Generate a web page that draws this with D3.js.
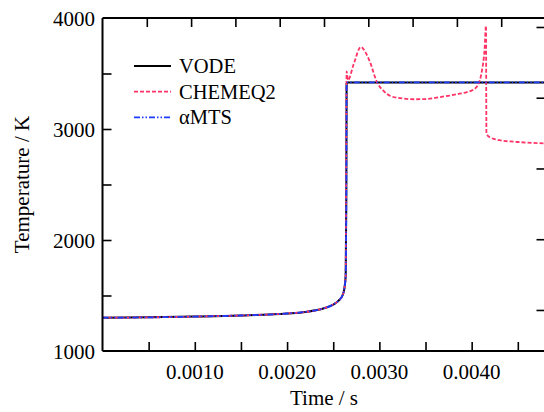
<!DOCTYPE html>
<html>
<head>
<meta charset="utf-8">
<script src="https://cdn.jsdelivr.net/npm/d3@7"></script>
<style>
  body { margin: 0; background: #fff; }
  svg { display: block; }
  text { font-family: "Liberation Serif", "DejaVu Serif", serif; fill: #000; }
</style>
</head>
<body>
<script>
// ---- data (time in s, temperature in K) ----
var vodeTime = [0, 0.0005, 0.001, 0.0015, 0.002, 0.0022, 0.0024, 0.0025, 0.00256, 0.0026, 0.00262, 0.002635, 0.002642, 0.002645, 0.00266, 0.0048];
var vodeTemp = [1300, 1303, 1310, 1320, 1338, 1352, 1385, 1418, 1455, 1500, 1560, 1680, 2400, 3410, 3420, 3420];

var mtsTime = [0, 0.0005, 0.001, 0.0015, 0.002, 0.0022, 0.0024, 0.0025, 0.00256, 0.0026, 0.00262, 0.002635, 0.002642, 0.002645, 0.00266, 0.0048];
var mtsTemp = [1300, 1303, 1310, 1320, 1338, 1352, 1385, 1418, 1455, 1500, 1560, 1680, 2400, 3410, 3420, 3420];

var chemTime = [0, 0.0005, 0.001, 0.0015, 0.002, 0.0022, 0.0024, 0.0025, 0.00256, 0.0026, 0.00262, 0.002635,
  0.00264, 0.002645, 0.00266, 0.00272, 0.0028, 0.00285, 0.0029, 0.00297, 0.00305, 0.00312, 0.00325, 0.00337,
  0.0035, 0.00366, 0.00387, 0.00395, 0.00402, 0.00407, 0.00411, 0.00414, 0.004155, 0.00416, 0.004175, 0.0042,
  0.0043, 0.0045, 0.0048];
var chemTemp = [1300, 1303, 1310, 1320, 1338, 1352, 1385, 1418, 1455, 1500, 1560, 1680,
  2600, 3520, 3440, 3580, 3740, 3690, 3600, 3430, 3340, 3297, 3275, 3268,
  3270, 3288, 3318, 3333, 3355, 3400, 3520, 3720, 3930, 2964, 2940, 2925,
  2900, 2883, 2870];

var xTickLabels = ["0.0010", "0.0020", "0.0030", "0.0040"];
var xTickValues = [0.0005, 0.001, 0.0015, 0.002, 0.0025, 0.003, 0.0035, 0.004, 0.0045];
var yTickValues = [1500, 2000, 2500, 3000, 3500];
var yTickLabels = ["1000", "2000", "3000", "4000"];
var rightTickValues = [0, 1, 2, 3, 4];

var seriesNames = ["VODE", "CHEMEQ2", "\u03b1MTS"];
var seriesColors = ["#000000", "#ff3366", "#1a3cff"];
var seriesDash = [null, "4,2", "6,2,1.5,2,1.5,2"];

// ---- layout ----
var W = 544, H = 412;
var margin = { left: 102.5, right: 545.5, top: 18, bottom: 351 };

var x = d3.scaleLinear().domain([0, 0.0048]).range([margin.left, margin.right]);
var xTop = d3.scaleLinear().domain([0, 0.005]).range([margin.left, margin.right]);
var y = d3.scaleLinear().domain([1000, 4000]).range([margin.bottom, margin.top]);
var yRight = d3.scaleLinear().domain([-0.58, 4.127]).range([margin.bottom, margin.top]);

var svg = d3.select("body").append("svg")
  .attr("width", W)
  .attr("height", H);

// clip for the curves
svg.append("clipPath").attr("id", "plotclip")
  .append("rect")
  .attr("x", margin.left).attr("y", margin.top)
  .attr("width", margin.right - margin.left).attr("height", margin.bottom - margin.top);

// curves
var line = d3.line()
  .x(function (d) { return x(d[0]); })
  .y(function (d) { return y(d[1]); })
  .curve(d3.curveMonotoneX);

var series = [
  d3.zip(vodeTime, vodeTemp),
  d3.zip(chemTime, chemTemp),
  d3.zip(mtsTime, mtsTemp)
];

var plot = svg.append("g").attr("clip-path", "url(#plotclip)");
series.forEach(function (data, i) {
  plot.append("path")
    .datum(data)
    .attr("d", line)
    .attr("fill", "none")
    .attr("stroke", seriesColors[i])
    .attr("stroke-width", i == 0 ? 2 : 1.8)
    .attr("stroke-dasharray", seriesDash[i]);
});

// frame
var tickLen = 9;
svg.append("g")
  .attr("transform", "translate(0," + margin.bottom + ")")
  .call(d3.axisBottom(x).tickValues(xTickValues).tickSize(-tickLen).tickFormat(""))
  .call(function (g) {
    g.select(".domain").attr("stroke-width", 2).attr("d", "M" + margin.left + ",0H" + margin.right);
    g.selectAll(".tick line").attr("stroke-width", 1.6);
  });

svg.append("g")
  .attr("transform", "translate(0," + margin.top + ")")
  .call(d3.axisTop(xTop).tickValues(xTickValues).tickSize(-tickLen).tickFormat(""))
  .call(function (g) {
    g.select(".domain").attr("stroke-width", 2).attr("d", "M" + margin.left + ",0H" + margin.right);
    g.selectAll(".tick line").attr("stroke-width", 1.6);
  });

svg.append("g")
  .attr("transform", "translate(" + margin.left + ",0)")
  .call(d3.axisLeft(y).tickValues(yTickValues).tickSize(-tickLen).tickFormat(""))
  .call(function (g) {
    g.select(".domain").attr("stroke-width", 2).attr("d", "M0," + margin.top + "V" + margin.bottom);
    g.selectAll(".tick line").attr("stroke-width", 1.6);
  });

svg.append("g")
  .attr("transform", "translate(" + margin.right + ",0)")
  .call(d3.axisRight(yRight).tickValues(rightTickValues).tickSize(-tickLen).tickFormat(""))
  .call(function (g) {
    g.select(".domain").attr("stroke-width", 2).attr("d", "M0," + margin.top + "V" + margin.bottom);
    g.selectAll(".tick line").attr("stroke-width", 1.6);
  });

// tick labels
svg.selectAll(".xlab")
  .data(xTickLabels)
  .enter().append("text")
  .attr("class", "xlab")
  .attr("x", function (d) { return x(+d); })
  .attr("y", 379)
  .attr("text-anchor", "middle")
  .attr("font-size", "21px")
  .text(function (d) { return d; });

svg.selectAll(".ylab")
  .data(yTickLabels)
  .enter().append("text")
  .attr("class", "ylab")
  .attr("x", 95)
  .attr("y", function (d) { return y(+d) + 8; })
  .attr("text-anchor", "end")
  .attr("font-size", "21px")
  .text(function (d) { return d; });

// axis titles
svg.append("text")
  .attr("x", (margin.left + margin.right) / 2)
  .attr("y", 405)
  .attr("text-anchor", "middle")
  .attr("font-size", "21px")
  .text("Time / s");

svg.append("text")
  .attr("transform", "translate(29," + (margin.top + margin.bottom) / 2 + ") rotate(-90)")
  .attr("text-anchor", "middle")
  .attr("font-size", "21px")
  .text("Temperature / K");

// legend
var legend = svg.append("g");
seriesNames.forEach(function (name, i) {
  var ly = 66 + i * 25.7;
  legend.append("line")
    .attr("x1", 134).attr("x2", 171)
    .attr("y1", ly).attr("y2", ly)
    .attr("stroke", seriesColors[i])
    .attr("stroke-width", i == 0 ? 2 : 1.8)
    .attr("stroke-dasharray", seriesDash[i]);
  legend.append("text")
    .attr("x", 179)
    .attr("y", ly + 7)
    .attr("font-size", "20.5px")
    .text(name);
});
</script>
</body>
</html>
